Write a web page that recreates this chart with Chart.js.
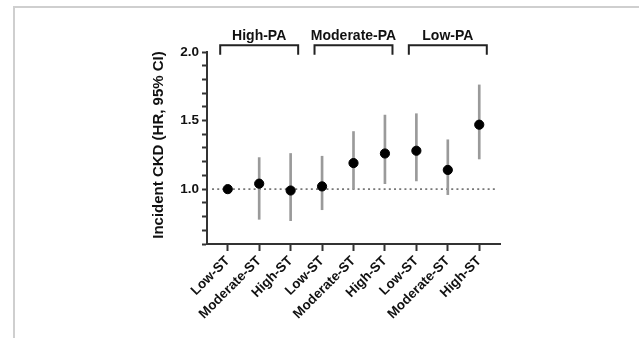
<!DOCTYPE html>
<html>
<head>
<meta charset="utf-8">
<script src="https://cdn.jsdelivr.net/npm/chart.js@4/dist/chart.umd.min.js"></script>
<style>
  html, body { margin:0; padding:0; background:#fff; width:639px; height:338px; overflow:hidden; }
  #frame { position:absolute; left:13px; top:6px; width:700px; height:400px; border:2px solid #cfcfcf; box-sizing:border-box; }
  #c { position:absolute; left:0; top:0; }
</style>
</head>
<body>
<div id="frame"></div>
<canvas id="c" width="639" height="338"></canvas>
<script>
// ---- data ----
const categories = ['Low-ST','Moderate-ST','High-ST','Low-ST','Moderate-ST','High-ST','Low-ST','Moderate-ST','High-ST'];
const groups = ['High-PA','Moderate-PA','Low-PA'];
const groupMembers = [[0,1,2],[3,4,5],[6,7,8]];
const hr     = [1.00, 1.04, 0.99, 1.02, 1.19, 1.26, 1.28, 1.14, 1.47];
const ciLow  = [null, 0.78, 0.77, 0.85, 1.00, 1.04, 1.06, 0.96, 1.22];
const ciHigh = [null, 1.23, 1.26, 1.24, 1.42, 1.54, 1.55, 1.36, 1.76];
const yTickValues = [0.6,0.7,0.8,0.9,1.0,1.1,1.2,1.3,1.4,1.5,1.6,1.7,1.8,1.9,2.0];
const yTickLabels = {'1.0':'1.0','1.5':'1.5','2.0':'2.0'};
const refValue = 1.0;
const yTitle = 'Incident CKD (HR, 95% CI)';

// ---- layout constants ----
const X_MIN = -0.66, X_MAX = 8.66;
const BRACKET_HALF = 1.24, BRACKET_TOP = 2.05, BRACKET_LEG = 1.98;

const errData = [];
categories.forEach((c,i)=>{ if (ciLow[i] != null) errData.push({x:i, y:[ciLow[i], ciHigh[i]]}); });
const ptData = categories.map((c,i)=>({x:i, y:hr[i]}));

const bracketSets = groupMembers.map((m,g)=>{
  const c = (m[0]+m[m.length-1])/2;
  return {
    type:'line', label:groups[g],
    data:[{x:c-BRACKET_HALF,y:BRACKET_LEG},{x:c-BRACKET_HALF,y:BRACKET_TOP},{x:c+BRACKET_HALF,y:BRACKET_TOP},{x:c+BRACKET_HALF,y:BRACKET_LEG}],
    borderColor:'#222', borderWidth:2, pointRadius:0, fill:false, clip:false, order:5, tension:0
  };
});

const textPlugin = {
  id:'texts',
  afterDraw(chart){
    const ctx = chart.ctx, xs = chart.scales.x;
    ctx.save();
    ctx.fillStyle = '#111';
    ctx.font = 'bold 14px "Liberation Sans", Arial, sans-serif';
    ctx.textAlign = 'center'; ctx.textBaseline = 'middle';
    groupMembers.forEach((m,g)=>{
      const c = (m[0]+m[m.length-1])/2;
      ctx.fillText(groups[g], xs.getPixelForValue(c), 36);
    });
    ctx.translate(159, 145);
    ctx.rotate(-Math.PI/2);
    ctx.font = 'bold 15px "Liberation Sans", Arial, sans-serif';
    ctx.fillText(yTitle, 0, 0);
    ctx.restore();
  }
};

new Chart(document.getElementById('c'), {
  type:'bar',
  data:{
    datasets:[
      { type:'scatter', label:'HR', data:ptData, backgroundColor:'#000', borderColor:'#000', pointRadius:4.6, pointHoverRadius:4.6, order:1 },
      { type:'bar', label:'95% CI', data:errData, backgroundColor:'#9a9a9a', barThickness:2, grouped:false, order:3 },
      { type:'line', label:'ref', data:[{x:-0.5,y:refValue},{x:8.55,y:refValue}], borderColor:'#777', borderWidth:1.6, borderDash:[2,3.2], pointRadius:0, order:4 },
      ...bracketSets
    ]
  },
  options:{
    responsive:false, animation:false, devicePixelRatio:1,
    layout:{ padding:{ left:0, top:52, right:139, bottom:0 } },
    plugins:{ legend:{display:false}, tooltip:{enabled:false} },
    scales:{
      x:{
        type:'linear', min:X_MIN, max:X_MAX, offset:false, bounds:'ticks',
        afterBuildTicks: s => { s.ticks = categories.map((c,i)=>({value:i})); },
        afterFit: s => { s.height = 338 - 244; },
        ticks:{ autoSkip:false, minRotation:45, maxRotation:45, padding:2, color:'#111',
          font:{ family:'"Liberation Sans", Arial, sans-serif', size:13.5, weight:'bold' },
          callback: v => categories[v] },
        grid:{ offset:false, drawOnChartArea:false, drawTicks:true, tickLength:7, tickWidth:2, tickColor:'#333' },
        border:{ display:true, color:'#333', width:2 }
      },
      y:{
        type:'linear', min:0.6, max:2.0,
        afterBuildTicks: s => { s.ticks = yTickValues.map(v=>({value:v})); },
        afterFit: s => { s.width = 207; },
        ticks:{ autoSkip:false, padding:3, color:'#111',
          font:{ family:'"Liberation Sans", Arial, sans-serif', size:13.5, weight:'bold' },
          callback: v => yTickLabels[v.toFixed(1)] || '' },
        grid:{ drawOnChartArea:false, drawTicks:true, tickLength:5, tickWidth:2, tickColor:'#333' },
        border:{ display:true, color:'#333', width:2 }
      }
    }
  },
  plugins:[textPlugin]
});
</script>
</body>
</html>
